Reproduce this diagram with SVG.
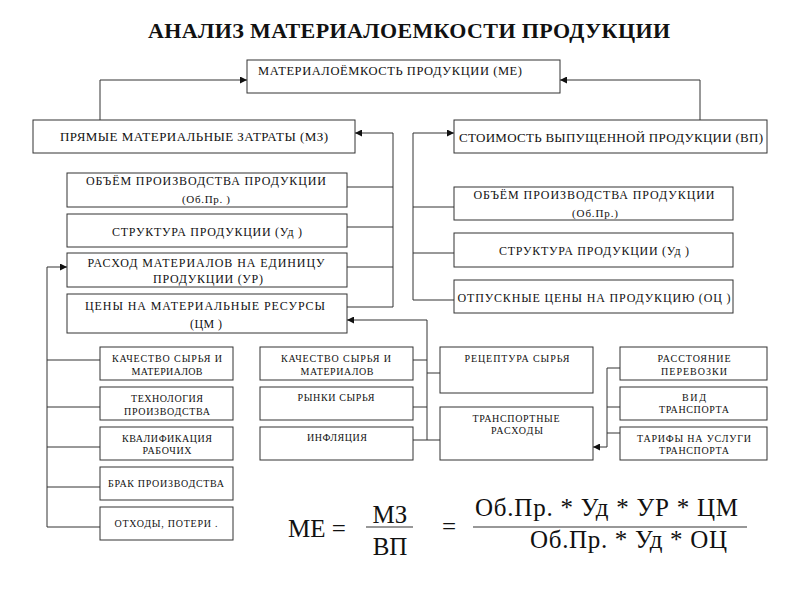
<svg xmlns="http://www.w3.org/2000/svg" width="800" height="600" viewBox="0 0 800 600">
<style>
.bg{fill:#fff}
.box{fill:#fff;stroke:#333;stroke-width:1}
text{font-family:"Liberation Serif","Times New Roman",serif;fill:#111}
.c{text-anchor:middle}
.s125{font-size:12.5px}
.s13{font-size:13px}
.s12{font-size:12px}
.s11{font-size:11px}
.s10{font-size:10px}
.f{font-size:25px}
.title{font-size:22px;font-weight:bold}
.ln{fill:none;stroke:#333;stroke-width:1}
.ar{fill:none;stroke:#333;stroke-width:1;marker-end:url(#ah)}
</style>
<defs>
<marker id="ah" viewBox="0 0 10 10" refX="10" refY="5" markerWidth="7" markerHeight="7" markerUnits="userSpaceOnUse" orient="auto">
<path d="M0,0 L10,5 L0,10 z" fill="#111"/>
</marker>
</defs>
<rect class="bg" x="0" y="0" width="800" height="600"/>
<text class="title c" x="409" y="38" textLength="522">АНАЛИЗ МАТЕРИАЛОЕМКОСТИ ПРОДУКЦИИ</text>

<g id="connectors">
<polyline class="ar" points="100,120 100,80 247,80"/>
<polyline class="ar" points="700,120 700,80 560,80"/>
<polyline class="ar" points="347,307 393,307 393,133 355,133"/>
<line class="ln" x1="347" y1="187" x2="393" y2="187"/>
<line class="ln" x1="347" y1="227" x2="393" y2="227"/>
<line class="ln" x1="347" y1="267" x2="393" y2="267"/>
<polyline class="ar" points="454,300 413,300 413,133 454,133"/>
<line class="ln" x1="413" y1="207" x2="454" y2="207"/>
<line class="ln" x1="413" y1="253" x2="454" y2="253"/>
<polyline class="ar" points="100,527 47,527 47,267 67,267"/>
<line class="ln" x1="47" y1="360" x2="100" y2="360"/>
<line class="ln" x1="47" y1="407" x2="100" y2="407"/>
<line class="ln" x1="47" y1="447" x2="100" y2="447"/>
<line class="ln" x1="47" y1="487" x2="100" y2="487"/>
<polyline class="ar" points="413,440 427,440 427,320 347,320"/>
<line class="ln" x1="427" y1="440" x2="440" y2="440"/>
<line class="ln" x1="413" y1="360" x2="427" y2="360"/>
<line class="ln" x1="427" y1="373" x2="440" y2="373"/>
<line class="ln" x1="413" y1="407" x2="427" y2="407"/>
<polyline class="ar" points="620,368 607,368 607,447 593,447"/>
<line class="ln" x1="607" y1="407" x2="620" y2="407"/>
<line class="ln" x1="607" y1="433" x2="620" y2="433"/>
</g>

<g id="n-me"><rect class="box" x="247" y="60" width="313" height="33"/>
<text class="s125" x="258" y="75" textLength="264">МАТЕРИАЛОЁМКОСТЬ ПРОДУКЦИИ (МЕ)</text></g>
<g id="n-mz"><rect class="box" x="33" y="120" width="322" height="33"/>
<text class="s13 c" x="194" y="141" textLength="268">ПРЯМЫЕ  МАТЕРИАЛЬНЫЕ  ЗАТРАТЫ (МЗ)</text></g>
<g id="n-vp"><rect class="box" x="454" y="120" width="313" height="33"/>
<text class="s13 c" x="611" y="142" textLength="304">СТОИМОСТЬ ВЫПУЩЕННОЙ ПРОДУКЦИИ (ВП)</text></g>

<g id="n-obpr-l"><rect class="box" x="67" y="173" width="280" height="34"/>
<text class="s12 c" x="206" y="185" textLength="240">ОБЪЁМ ПРОИЗВОДСТВА ПРОДУКЦИИ</text>
<text class="s11 c" x="206" y="203" textLength="48">(Об.Пр. )</text></g>
<g id="n-ud-l"><rect class="box" x="67" y="214" width="280" height="33"/>
<text class="s12 c" x="207" y="236" textLength="190">СТРУКТУРА ПРОДУКЦИИ (Уд )</text></g>
<g id="n-ur"><rect class="box" x="67" y="253" width="280" height="34"/>
<text class="s12 c" x="206" y="267" textLength="237">РАСХОД МАТЕРИАЛОВ НА ЕДИНИЦУ</text>
<text class="s12 c" x="208" y="283" textLength="110">ПРОДУКЦИИ (УР)</text></g>
<g id="n-cm"><rect class="box" x="67" y="294" width="280" height="39"/>
<text class="s12 c" x="205" y="310" textLength="240">ЦЕНЫ НА МАТЕРИАЛЬНЫЕ РЕСУРСЫ</text>
<text class="s12 c" x="206" y="328" textLength="32">(ЦМ )</text></g>

<g id="n-obpr-r"><rect class="box" x="454" y="187" width="279" height="33"/>
<text class="s12 c" x="594" y="199" textLength="241">ОБЪЁМ ПРОИЗВОДСТВА ПРОДУКЦИИ</text>
<text class="s11 c" x="595" y="217" textLength="46">(Об.Пр.)</text></g>
<g id="n-ud-r"><rect class="box" x="454" y="233" width="279" height="34"/>
<text class="s12 c" x="594" y="255" textLength="190">СТРУКТУРА ПРОДУКЦИИ (Уд )</text></g>
<g id="n-oc"><rect class="box" x="454" y="280" width="279" height="33"/>
<text class="s12 c" x="594" y="302" textLength="273">ОТПУСКНЫЕ ЦЕНЫ НА ПРОДУКЦИЮ (ОЦ )</text></g>

<g id="n-kach1"><rect class="box" x="100" y="347" width="133" height="33"/>
<text class="s10 c" x="167" y="362" textLength="110">КАЧЕСТВО СЫРЬЯ И</text>
<text class="s10 c" x="167" y="375" textLength="71">МАТЕРИАЛОВ</text></g>
<g id="n-tech"><rect class="box" x="100" y="387" width="133" height="33"/>
<text class="s10 c" x="167" y="402" textLength="72">ТЕХНОЛОГИЯ</text>
<text class="s10 c" x="167" y="415" textLength="86">ПРОИЗВОДСТВА</text></g>
<g id="n-kval"><rect class="box" x="100" y="427" width="133" height="33"/>
<text class="s10 c" x="167" y="442" textLength="90">КВАЛИФИКАЦИЯ</text>
<text class="s10 c" x="167" y="454" textLength="49">РАБОЧИХ</text></g>
<g id="n-brak"><rect class="box" x="100" y="467" width="133" height="33"/>
<text class="s10 c" x="166" y="487" textLength="116">БРАК ПРОИЗВОДСТВА</text></g>
<g id="n-otx"><rect class="box" x="100" y="507" width="133" height="33"/>
<text class="s10 c" x="166" y="527" textLength="103">ОТХОДЫ,  ПОТЕРИ .</text></g>

<g id="n-kach2"><rect class="box" x="260" y="347" width="153" height="33"/>
<text class="s10 c" x="336" y="362" textLength="110">КАЧЕСТВО СЫРЬЯ И</text>
<text class="s10 c" x="337" y="375" textLength="73">МАТЕРИАЛОВ</text></g>
<g id="n-rynki"><rect class="box" x="260" y="387" width="153" height="33"/>
<text class="s10 c" x="336" y="401" textLength="77">РЫНКИ СЫРЬЯ</text></g>
<g id="n-infl"><rect class="box" x="260" y="427" width="153" height="33"/>
<text class="s10 c" x="337" y="441" textLength="60">ИНФЛЯЦИЯ</text></g>

<g id="n-recept"><rect class="box" x="440" y="347" width="153" height="46"/>
<text class="s10 c" x="517" y="362" textLength="105">РЕЦЕПТУРА  СЫРЬЯ</text></g>
<g id="n-transp"><rect class="box" x="440" y="407" width="153" height="53"/>
<text class="s10 c" x="516" y="422" textLength="87">ТРАНСПОРТНЫЕ</text>
<text class="s10 c" x="517" y="434" textLength="52">РАСХОДЫ</text></g>

<g id="n-rasst"><rect class="box" x="620" y="347" width="147" height="33"/>
<text class="s10 c" x="694" y="362" textLength="73">РАССТОЯНИЕ</text>
<text class="s10 c" x="694" y="375" textLength="66">ПЕРЕВОЗКИ</text></g>
<g id="n-vid"><rect class="box" x="620" y="387" width="147" height="33"/>
<text class="s10 c" x="694" y="401" textLength="24">ВИД</text>
<text class="s10 c" x="694" y="413" textLength="70">ТРАНСПОРТА</text></g>
<g id="n-tarif"><rect class="box" x="620" y="427" width="147" height="33"/>
<text class="s10 c" x="694" y="442" textLength="114">ТАРИФЫ  НА УСЛУГИ</text>
<text class="s10 c" x="694" y="454" textLength="70">ТРАНСПОРТА</text></g>

<g id="formula">
<text class="f" x="288" y="537">МЕ =</text>
<text class="f c" x="390" y="523">МЗ</text>
<line x1="366" y1="527" x2="413" y2="527" stroke="#333" stroke-width="1.2"/>
<text class="f c" x="390" y="555">ВП</text>
<text class="f" x="442" y="535">=</text>
<text class="f" x="475" y="516" textLength="263">Об.Пр.  * Уд * УР * ЦМ</text>
<line x1="473" y1="527" x2="747" y2="527" stroke="#333" stroke-width="1.2"/>
<text class="f" x="530" y="548" textLength="197">Об.Пр. * Уд * ОЦ</text>
</g>
</svg>
